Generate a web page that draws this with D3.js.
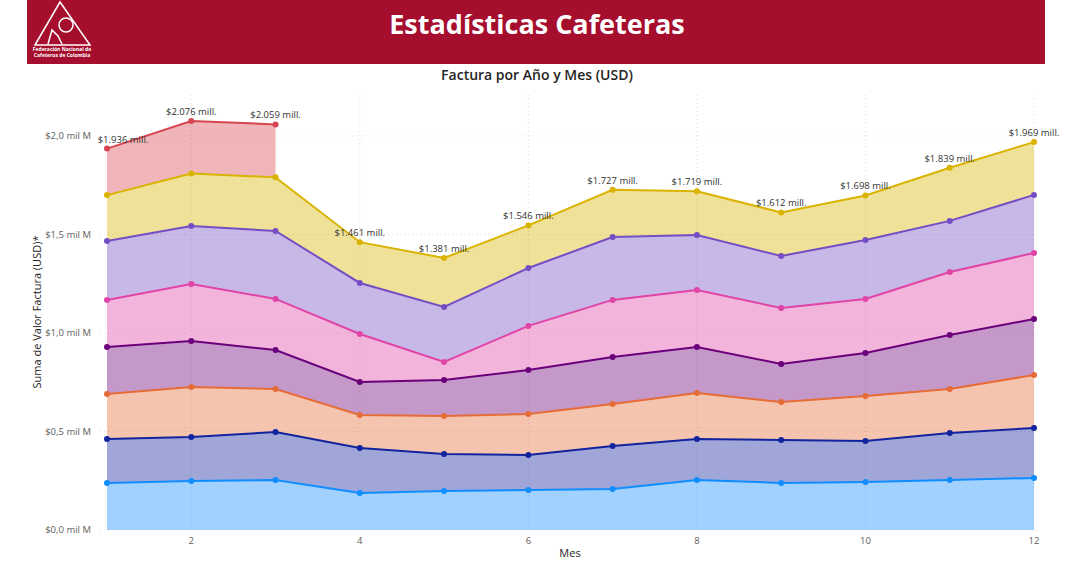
<!DOCTYPE html>
<html><head><meta charset="utf-8">
<script src="https://cdn.jsdelivr.net/npm/d3@7"></script>
<style>body{margin:0;background:#fff;font-family:"Open Sans",sans-serif}</style>
</head><body><svg id="c" width="1083" height="562"></svg>
<script>
// Monthly invoice value per year (USD, thousands of millions)
var months = [1,2,3,4,5,6,7,8,9,10,11,12];
var years = ['2016','2017','2018','2019','2020','2021','2022','2023'];
var s2016 = [0.239,0.249,0.254,0.188,0.198,0.203,0.208,0.254,0.239,0.244,0.254,0.264];
var s2017 = [0.223,0.223,0.243,0.228,0.188,0.178,0.218,0.208,0.218,0.208,0.238,0.254];
var s2018 = [0.228,0.254,0.219,0.168,0.193,0.208,0.214,0.233,0.193,0.228,0.224,0.269];
var s2019 = [0.239,0.233,0.198,0.167,0.182,0.223,0.238,0.234,0.193,0.218,0.274,0.284];
var s2020 = [0.239,0.290,0.259,0.244,0.092,0.224,0.290,0.289,0.284,0.275,0.320,0.335];
var s2021 = [0.299,0.294,0.345,0.259,0.279,0.294,0.319,0.279,0.264,0.299,0.259,0.295];
var s2022 = [0.233,0.267,0.272,0.207,0.249,0.216,0.240,0.222,0.221,0.226,0.270,0.268];
var s2023 = [0.236,0.266,0.269];
var totals = [1.936,2.076,2.059,1.461,1.381,1.546,1.727,1.719,1.612,1.698,1.839,1.969];
var yTicks = [0,0.5,1,1.5,2];
var xTicks = [2,4,6,8,10,12];

var series = [s2016,s2017,s2018,s2019,s2020,s2021,s2022,s2023];
var colors = ['#118dff','#12239e','#e66c37','#6b007b','#e044a7','#744ec2','#d9b300','#d64550'];

var svg = d3.select('#c');

// header band
svg.append('rect').attr('x',27).attr('y',0).attr('width',1018).attr('height',64).attr('fill','#a50e2d');
svg.append('text').attr('x',537).attr('y',34).attr('text-anchor','middle')
	.attr('fill','#fff').style('font-size','27px').style('font-weight','bold').text('Estadísticas Cafeteras');
// simple logo
var logo = svg.append('g').attr('fill','none').attr('stroke','#fff').attr('stroke-width',1.5);
logo.append('path').attr('d','M35,45 L60,2 L90,45 Z');
logo.append('circle').attr('cx',66).attr('cy',25).attr('r',7);
logo.append('path').attr('d','M48,44 L52,30 L58,36 L62,44');
svg.append('text').attr('x',62).attr('y',51).attr('text-anchor','middle').attr('fill','#fff')
	.style('font-size','5px').style('font-weight','bold').text('Federación Nacional de');
svg.append('text').attr('x',62).attr('y',57).attr('text-anchor','middle').attr('fill','#fff')
	.style('font-size','5px').style('font-weight','bold').text('Cafeteros de Colombia');

svg.append('text').attr('x',537).attr('y',80).attr('text-anchor','middle').attr('fill','#252423')
	.style('font-size','14px').style('font-weight','600').text('Factura por Año y Mes (USD)');

var x = d3.scaleLinear().domain([1,12]).range([107,1034]);
var y = d3.scaleLinear().domain([0,2]).range([530,136]);

// grid
svg.append('g').selectAll('line').data(yTicks).join('line')
	.attr('x1',100).attr('x2',1040).attr('y1',y).attr('y2',y)
	.attr('stroke','#ddd').attr('stroke-dasharray','1,3');
svg.append('g').selectAll('line').data(xTicks).join('line')
	.attr('x1',x).attr('x2',x).attr('y1',95).attr('y2',530)
	.attr('stroke','#ddd').attr('stroke-dasharray','1,3');

// stack
var cum = [];
series.forEach(function(s,i){
	var pts = s.map(function(v,j){
		var base = i ? cum[i-1][j].top : 0;
		return {m: months[j], base: base, top: base + v};
	});
	cum.push(pts);
});

var area = d3.area().x(function(d){return x(d.m);}).y0(function(d){return y(d.base);}).y1(function(d){return y(d.top);});
var line = d3.line().x(function(d){return x(d.m);}).y(function(d){return y(d.top);});

cum.forEach(function(pts,i){
	svg.append('path').attr('d',area(pts)).attr('fill',colors[i]).attr('fill-opacity',0.4);
});
cum.forEach(function(pts,i){
	svg.append('path').attr('d',line(pts)).attr('fill','none').attr('stroke',colors[i]).attr('stroke-width',2);
	svg.append('g').selectAll('circle').data(pts).join('circle')
		.attr('cx',function(d){return x(d.m);}).attr('cy',function(d){return y(d.top);})
		.attr('r',3).attr('fill',colors[i]);
});

// total labels
svg.append('g').selectAll('text').data(totals).join('text')
	.attr('x',function(d,i){return x(months[i]) + (i===0 ? 16 : 0);})
	.attr('y',function(d,i){var last = i<3 ? cum[7][i] : cum[6][i]; return y(last.top) - 6;})
	.attr('text-anchor','middle').attr('fill','#333').style('font-size','9.5px')
	.text(function(d){return '$' + d.toFixed(3) + ' mill.';});

// axes labels
svg.append('g').selectAll('text').data(yTicks).join('text')
	.attr('x',91).attr('y',function(d){return y(d)+3;}).attr('text-anchor','end')
	.attr('fill','#605e5c').style('font-size','9.5px')
	.text(function(d){return '$' + d.toFixed(1).replace('.',',') + ' mil M';});
svg.append('g').selectAll('text').data(xTicks).join('text')
	.attr('x',x).attr('y',544).attr('text-anchor','middle')
	.attr('fill','#605e5c').style('font-size','9.5px').text(function(d){return d;});
svg.append('text').attr('x',570).attr('y',557).attr('text-anchor','middle')
	.attr('fill','#252423').style('font-size','11px').text('Mes');
svg.append('text').attr('transform','translate(41,312) rotate(-90)').attr('text-anchor','middle')
	.attr('fill','#252423').style('font-size','11px').text('Suma de Valor Factura (USD)*');
</script></body></html>
